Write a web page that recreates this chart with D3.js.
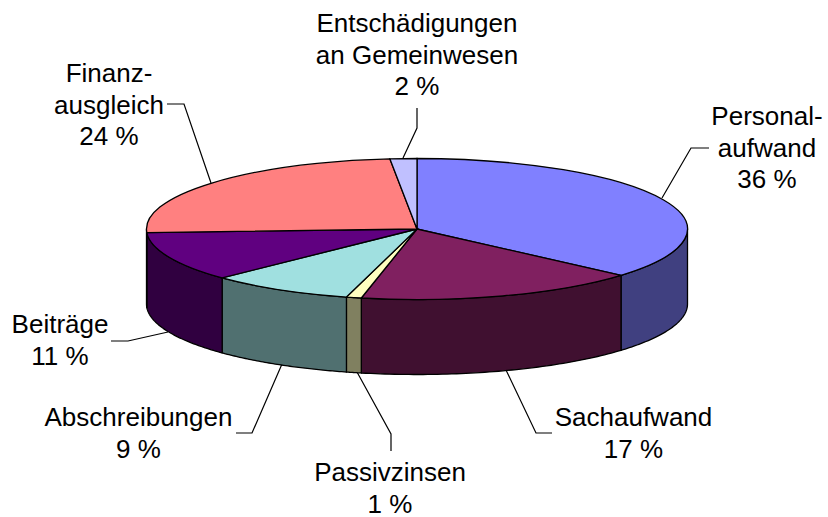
<!DOCTYPE html>
<html><head><meta charset="utf-8"><script src="https://cdn.jsdelivr.net/npm/d3@7"></script>
<style>html,body{margin:0;background:#fff}svg{display:block}text{font-family:"Liberation Sans",Arial,sans-serif;font-size:26px;fill:#000}</style></head>
<body><svg id="c" width="828" height="517"></svg>
<script>
const categories=["Personalaufwand","Sachaufwand","Passivzinsen","Abschreibungen","Beiträge","Finanzausgleich","Entschädigungen an Gemeinwesen"];
const values=[36.4,16.9,0.9,8.6,11.4,24.2,1.6];
const topColors=["#8080ff","#802060","#ffffc0","#a0e0e0","#600080","#ff8080","#c0c0ff"];
const sideColors=["#404080","#401030","#808060","#507070","#300040","#804040","#606080"];
const labelLines=[["Personal-","aufwand","36 %"],["Sachaufwand","17 %"],["Passivzinsen","1 %"],["Abschreibungen","9 %"],["Beiträge","11 %"],["Finanz-","ausgleich","24 %"],["Entschädigungen","an Gemeinwesen","2 %"]];
const labelAnchors=[[767,125],[633.5,426],[390,481],[138.5,426],[60,333],[109,82],[417,32]];
const leaders=[[[662,198],[691,148],[709,148]],[[506,370],[536,433],[552,433]],[[357,372],[391,434],[391,451]],[[282,364],[252,433],[236,433]],[[168,332],[128,341],[111,341]],[[211,183],[184,104],[167,104]],[[403,158],[417,128],[417,108]]];
const cx=417,cy=229,rx=270.5,ry=70.5,depth=75;
const svg=d3.select("#c");
const pie=d3.pie().sort(null).value(d=>d);
const arcs=pie(values);
const px=a=>cx+rx*Math.sin(a), py=a=>cy-ry*Math.cos(a);
const wallPath=(a0,a1)=>{const s=d3.path();const n=60;
  for(let i=0;i<=n;i++){const a=a0+(a1-a0)*i/n;i?s.lineTo(px(a),py(a)+depth):s.moveTo(px(a),py(a)+depth);}
  for(let i=n;i>=0;i--){const a=a0+(a1-a0)*i/n;s.lineTo(px(a),py(a));}
  s.closePath();return s.toString();};
const stroke="#000",sw=1.3;
const line=d3.line();
svg.selectAll("path.l").data(leaders).join("path").attr("class","l").attr("d",line).attr("fill","none").attr("stroke","#000").attr("stroke-width",1.2);
arcs.forEach((d,i)=>{const a0=Math.max(d.startAngle,Math.PI/2),a1=Math.min(d.endAngle,Math.PI*1.5);
  if(a1>a0)svg.append("path").attr("d",wallPath(a0,a1)).attr("fill",sideColors[i]).attr("stroke",stroke).attr("stroke-width",sw).attr("stroke-linejoin","round");});
const arc=d3.arc().innerRadius(0).outerRadius(rx);
const pieTop=svg.append("g").attr("transform",`translate(${cx},${cy}) scale(1,${ry/rx})`);
pieTop.selectAll("path").data(arcs).join("path").attr("d",arc).attr("fill",(d,i)=>topColors[i]).attr("stroke",stroke).attr("stroke-width",sw).attr("vector-effect","non-scaling-stroke");
labelLines.forEach((ls,i)=>{const t=svg.append("text").attr("text-anchor","middle");
  ls.forEach((s,j)=>t.append("tspan").attr("x",labelAnchors[i][0]).attr("y",labelAnchors[i][1]+j*31.5).text(s));});
</script></body></html>
